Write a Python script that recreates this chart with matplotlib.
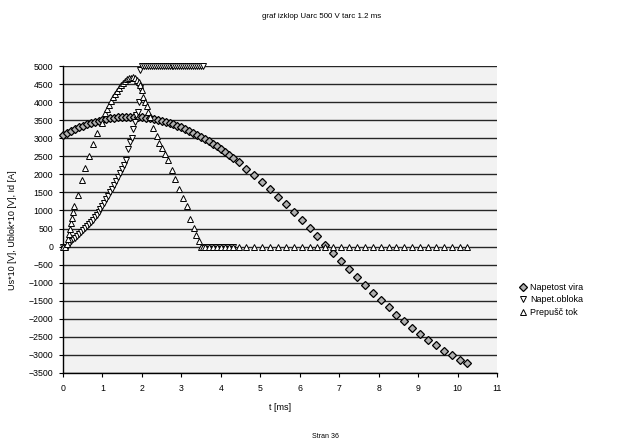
import matplotlib
matplotlib.use("Agg")
import matplotlib.pyplot as plt

plt.rcParams['font.family'] = ['Liberation Sans', 'DejaVu Sans']

# --- source voltage Us*10 [V] ---
t_vira = [0.0, 0.1, 0.2, 0.3, 0.4, 0.5, 0.6, 0.7, 0.8, 0.9,
          1.0, 1.1, 1.2, 1.3, 1.4, 1.5, 1.6, 1.7, 1.8, 1.9,
          2.0, 2.1, 2.2, 2.3, 2.4, 2.5, 2.6, 2.7, 2.8, 2.9,
          3.0, 3.1, 3.2, 3.3, 3.4, 3.5, 3.6, 3.7, 3.8, 3.9,
          4.0, 4.1, 4.2, 4.3,
          4.45, 4.65, 4.85, 5.05, 5.25, 5.45, 5.65, 5.85, 6.05, 6.25,
          6.45, 6.65, 6.85, 7.05, 7.25, 7.45, 7.65, 7.85, 8.05, 8.25,
          8.45, 8.65, 8.85, 9.05, 9.25, 9.45, 9.65, 9.85, 10.05, 10.25]
u_vira = [3098, 3155, 3208, 3257, 3304, 3347, 3387, 3424, 3457, 3487,
          3513, 3536, 3556, 3572, 3584, 3593, 3598, 3600, 3598, 3593,
          3584, 3572, 3556, 3536, 3513, 3487, 3457, 3424, 3387, 3347,
          3304, 3257, 3208, 3155, 3098, 3040, 2978, 2912, 2845, 2774,
          2700, 2624, 2546, 2464,
          2338, 2161, 1976, 1784, 1584, 1378, 1166, 950, 730, 507,
          283, 57, -170, -395, -619, -840, -1058, -1273, -1481, -1684,
          -1881, -2070, -2251, -2423, -2585, -2737, -2879, -3009, -3127, -3233]

# --- arc voltage Ublok*10 [V] ---
t_obl = [0.0, 0.05, 0.1, 0.15, 0.2, 0.25, 0.3, 0.35, 0.4, 0.45,
         0.5, 0.55, 0.6, 0.65, 0.7, 0.75, 0.8, 0.85, 0.9, 0.95,
         1.0, 1.05, 1.1, 1.15, 1.2, 1.25, 1.3, 1.35, 1.4, 1.45,
         1.5, 1.55, 1.6, 1.65, 1.7, 1.74, 1.78, 1.82, 1.86, 1.89,
         1.92, 1.94, 1.96,
         2.0, 2.05, 2.1, 2.15, 2.2, 2.25, 2.3, 2.35, 2.4, 2.45,
         2.5, 2.55, 2.6, 2.65, 2.7, 2.75, 2.8, 2.85, 2.9, 2.95,
         3.0, 3.05, 3.1, 3.15, 3.2, 3.25, 3.3, 3.35, 3.4, 3.45,
         3.5, 3.55,
         3.6, 3.7, 3.8, 3.9, 4.0, 4.1, 4.2, 4.3]
u_obl = [0, 0, 0, 60, 165, 205, 250, 300, 350, 400,
         455, 510, 565, 620, 680, 745, 810, 880, 955, 1035,
         1120, 1210, 1305, 1400, 1500, 1600, 1710, 1825, 1940, 2050,
         2160, 2270, 2400, 2700, 2900, 3020, 3250, 3450, 3650, 3740,
         4000, 4400, 4890,
         5000, 5000, 5000, 5000, 5000, 5000, 5000, 5000, 5000, 5000,
         5000, 5000, 5000, 5000, 5000, 5000, 5000, 5000, 5000, 5000,
         5000, 5000, 5000, 5000, 5000, 5000, 5000, 5000, 5000, 5000,
         5000, 5000,
         0, 0, 0, 0, 0, 0, 0, 0]

# --- let-through current Id [A] ---
t_tok = [0.0, 0.05, 0.1, 0.13, 0.16, 0.19, 0.21, 0.23, 0.25, 0.27,
         0.37, 0.47, 0.56, 0.67, 0.77, 0.87, 0.98, 1.07, 1.12, 1.17,
         1.22, 1.27, 1.32, 1.37, 1.42, 1.47, 1.52, 1.57, 1.62, 1.67,
         1.72, 1.77, 1.82, 1.87, 1.92, 1.96, 2.0, 2.04, 2.08, 2.12,
         2.16, 2.21, 2.29, 2.38, 2.44, 2.5, 2.58, 2.65, 2.76, 2.84,
         2.95, 3.04, 3.14, 3.22, 3.31, 3.38, 3.44, 3.49,
         3.55, 3.6, 3.7, 3.8, 3.9, 4.0, 4.1, 4.2, 4.3,
         4.45, 4.65, 4.85, 5.05, 5.25, 5.45, 5.65, 5.85, 6.05, 6.25,
         6.45, 6.65, 6.85, 7.05, 7.25, 7.45, 7.65, 7.85, 8.05, 8.25,
         8.45, 8.65, 8.85, 9.05, 9.25, 9.45, 9.65, 9.85, 10.05, 10.25]
i_tok = [0, 0, 60, 200, 350, 500, 650, 800, 950, 1110,
         1440, 1830, 2170, 2500, 2845, 3140, 3420, 3690, 3800, 3920,
         4030, 4130, 4230, 4320, 4400, 4470, 4540, 4590, 4630, 4660,
         4680, 4690, 4660, 4610, 4550, 4480, 4330, 4150, 4010, 3880,
         3740, 3600, 3280, 3050, 2880, 2730, 2560, 2400, 2130, 1870,
         1590, 1345, 1110, 770, 520, 330, 150, 0,
         0, 0, 0, 0, 0, 0, 0, 0, 0,
         0, 0, 0, 0, 0, 0, 0, 0, 0, 0,
         0, 0, 0, 0, 0, 0, 0, 0, 0, 0,
         0, 0, 0, 0, 0, 0, 0, 0, 0, 0]

x_ticks = list(range(0, 12))
y_ticks = list(range(-3500, 5001, 500))

fig = plt.figure(figsize=(6.17, 4.41), dpi=100)
ax = fig.add_axes([63 / 617, 1 - 373 / 441, (497 - 63) / 617, (373 - 66) / 441])
ax.set_facecolor('#f2f2f2')

# horizontal grid every 500
for y in y_ticks:
    ax.axhline(y, color='#262626', lw=1.0, zorder=1)

ax.plot(t_vira, u_vira, linestyle='none', marker='D', ms=3.6,
        mfc='#b0b0b0', mec='black', mew=0.9, label='Napetost vira',
        zorder=3, clip_on=False)
ax.plot(t_obl, u_obl, linestyle='none', marker='v', ms=4.2,
        mfc='white', mec='black', mew=0.7, label='Napet.obloka',
        zorder=3, clip_on=False)
ax.plot(t_tok, i_tok, linestyle='none', marker='^', ms=4.2,
        mfc='white', mec='black', mew=0.7, label='Prepušč tok',
        zorder=3, clip_on=False)

ax.set_xlim(0, 11)
ax.set_ylim(-3500, 5000)
ax.set_xticks(x_ticks)
ax.set_yticks(y_ticks)
ax.tick_params(axis='both', labelsize=6.3, length=3, width=0.8, colors='black')
ax.tick_params(axis='y', pad=4)
ax.tick_params(axis='x', pad=5)
for side in ('top', 'right'):
    ax.spines[side].set_visible(False)
for side in ('left', 'bottom'):
    ax.spines[side].set_linewidth(1.0)

fig.text(280 / 617, 1 - 407 / 441, 't [ms]', ha='center', va='center', fontsize=6.5)
fig.text(13 / 617, 1 - 230 / 441, 'Us*10 [V], Ublok*10 [V], Id [A]',
         rotation=90, ha='center', va='center', fontsize=6.5)
fig.text(322 / 617, 1 - 17 / 441, 'graf izklop Uarc 500 V tarc 1.2 ms',
         ha='center', va='center', fontsize=5.7)
fig.text(325 / 617, 1 - 437 / 441, 'Stran 36', ha='center', va='center', fontsize=5)

fig.legend(loc='center left', bbox_to_anchor=(515 / 617, 1 - 300 / 441),
           frameon=False, fontsize=6.5, handletextpad=0.3, labelspacing=0.35,
           borderaxespad=0, handlelength=1.0)

fig.savefig('out.png', dpi=100, facecolor='white')
